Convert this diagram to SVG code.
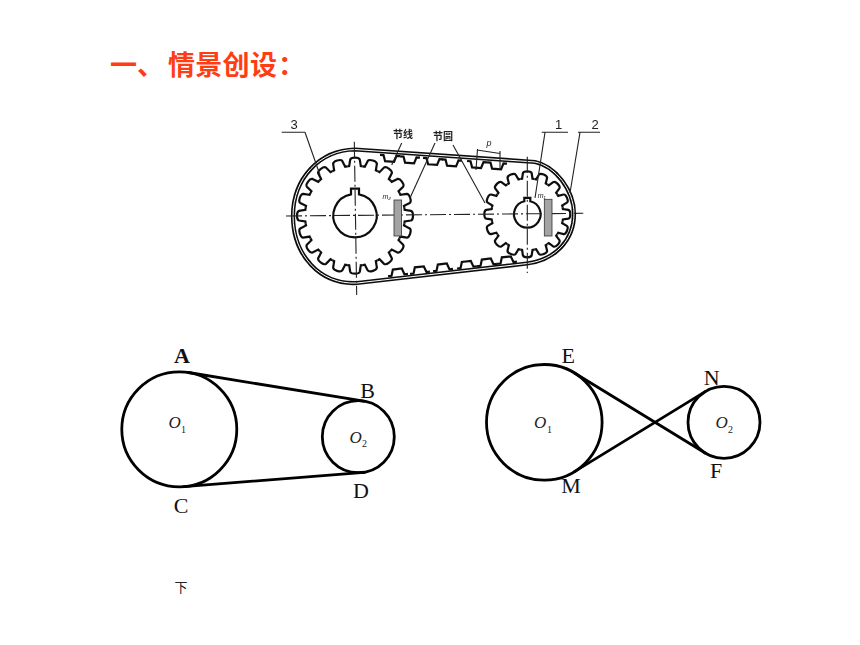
<svg xmlns="http://www.w3.org/2000/svg" width="860" height="645" viewBox="0 0 860 645">
<style>
.thin{fill:none;stroke:#222;stroke-width:1.1}
.tooth{fill:none;stroke:#111;stroke-width:2.2}
.cl{fill:none;stroke:#222;stroke-width:1.1;stroke-dasharray:16 3 2 3}
.pul{fill:none;stroke:#000;stroke-width:2.8}
.belt{fill:none;stroke:#000;stroke-width:2.8;stroke-linecap:round}
.lab{font-family:"Liberation Serif","Noto Sans CJK SC",serif;font-size:22px;fill:#111;text-anchor:middle}
.o{font-family:"Liberation Serif",serif;font-style:italic;font-size:17px;fill:#222}
.s{font-family:"Liberation Serif",serif;font-size:10px;fill:#222}
.fig{font-family:"Liberation Sans",sans-serif;font-size:13px;fill:#222;text-anchor:middle}
.cn{font-family:"Noto Sans CJK SC",sans-serif;font-size:10px;font-weight:700;fill:#222;text-anchor:middle}
</style>
<defs>
<filter id="soft" x="-5%" y="-5%" width="110%" height="110%"><feGaussianBlur stdDeviation="0.7"/></filter>
<path id="t1" d="M-7.82-49.38L-5.8-49.6L-4.8-56Q-4.2-58 0-58Q4.2-58 4.8-56L5.8-49.6L7.82-49.38"/>
<path id="t2" d="M-7.02-35.31L-5.2-35.6L-4.4-41Q-4-43 0-43Q4-43 4.4-41L5.2-35.6L7.02-35.31"/>
<path id="bt" d="M-10 0H-6.5L-4.5 6H4.5L6.5 0H10"/>
<path id="beltpath" d="M355 149.5L535 162C555 166 574 190 574 214C574 240 555 260 527 263.5L357 283C320 285 293 255 293 216C293 178 320 150 355 149.5Z"/>
</defs>

<g id="title">
<text x="110 137 168 195.3 222.6 249.9 278" y="75" font-family="'Noto Sans CJK SC',sans-serif" font-size="27" font-weight="700" fill="#ff3d14">一、情景创设：</text>
</g>

<g id="belt-drive-figure" filter="url(#soft)">
<g id="belt">
<use href="#beltpath" fill="none" stroke="#111" stroke-width="4.2"/>
<use href="#beltpath" fill="none" stroke="#fff" stroke-width="1"/>
<g class="tooth">
<use href="#bt" transform="translate(390 155.5) rotate(4)"/>
<use href="#bt" transform="translate(410 157) rotate(4)"/>
<use href="#bt" transform="translate(433 158.6) rotate(4)"/>
<use href="#bt" transform="translate(452 160) rotate(4)"/>
<use href="#bt" transform="translate(477 161.7) rotate(4)"/>
<use href="#bt" transform="translate(497 163) rotate(4)"/>
<use href="#bt" transform="translate(398 275) rotate(-6.5) scale(1 -1)"/>
<use href="#bt" transform="translate(420 272.8) rotate(-6.5) scale(1 -1)"/>
<use href="#bt" transform="translate(443 270) rotate(-6.5) scale(1 -1)"/>
<use href="#bt" transform="translate(467 267.4) rotate(-6.5) scale(1 -1)"/>
<use href="#bt" transform="translate(487 265) rotate(-6.5) scale(1 -1)"/>
<use href="#bt" transform="translate(507 262.8) rotate(-6.5) scale(1 -1)"/>
</g>
</g>
<g id="big-gear" class="tooth" transform="translate(355 215.7)">
<use href="#t1"/><use href="#t1" transform="rotate(18)"/><use href="#t1" transform="rotate(36)"/><use href="#t1" transform="rotate(54)"/><use href="#t1" transform="rotate(72)"/>
<use href="#t1" transform="rotate(90)"/><use href="#t1" transform="rotate(108)"/><use href="#t1" transform="rotate(126)"/><use href="#t1" transform="rotate(144)"/><use href="#t1" transform="rotate(162)"/>
<use href="#t1" transform="rotate(180)"/><use href="#t1" transform="rotate(198)"/><use href="#t1" transform="rotate(216)"/><use href="#t1" transform="rotate(234)"/><use href="#t1" transform="rotate(252)"/>
<use href="#t1" transform="rotate(270)"/><use href="#t1" transform="rotate(288)"/><use href="#t1" transform="rotate(306)"/><use href="#t1" transform="rotate(324)"/><use href="#t1" transform="rotate(342)"/>
<path d="M-4-21.3V-27H4V-21.3A21.7 21.7 0 1 1-4-21.3Z"/>
</g>
<g id="small-gear" class="tooth" transform="translate(527.3 214.3)">
<use href="#t2"/><use href="#t2" transform="rotate(22.5)"/><use href="#t2" transform="rotate(45)"/><use href="#t2" transform="rotate(67.5)"/>
<use href="#t2" transform="rotate(90)"/><use href="#t2" transform="rotate(112.5)"/><use href="#t2" transform="rotate(135)"/><use href="#t2" transform="rotate(157.5)"/>
<use href="#t2" transform="rotate(180)"/><use href="#t2" transform="rotate(202.5)"/><use href="#t2" transform="rotate(225)"/><use href="#t2" transform="rotate(247.5)"/>
<use href="#t2" transform="rotate(270)"/><use href="#t2" transform="rotate(292.5)"/><use href="#t2" transform="rotate(315)"/><use href="#t2" transform="rotate(337.5)"/>
<path d="M-3-13V-16.5H3V-13A13.3 13.3 0 1 1-3-13Z"/>
</g>
<g id="center-lines">
<path class="cl" d="M286 216L583.3 213.3"/>
<path class="cl" d="M354.3 141.7L356.7 295"/>
<path class="cl" d="M527.3 156.7V273"/>
</g>
<g id="inserts" fill="#a3a3a3" stroke="#333" stroke-width="0.8">
<rect x="394" y="200" width="7.6" height="36"/>
<rect x="544.3" y="199.3" width="7.7" height="36.7"/>
</g>
<g id="leaders">
<path class="thin" d="M281.7 132.3H305M305 132.3L320 175"/>
<path class="thin" d="M541.7 132.3H568M545 132.3L535 198"/>
<path class="thin" d="M578 132.3H600M580 132.3L570 193"/>
<path class="thin" d="M401.7 143L391.7 165"/>
<path class="thin" d="M435 143L410 198"/>
<path class="thin" d="M453 145L485 203"/>
<path class="thin" d="M477 150L500 153.5M477.5 149L476 170M500 151L500 168"/>
</g>
<g id="figure-labels">
<text class="fig" x="294" y="129">3</text>
<text class="fig" x="558.7" y="129">1</text>
<text class="fig" x="595" y="129">2</text>
<text class="cn" x="403" y="138">节线</text>
<text class="cn" x="443" y="140">节圆</text>
<text class="fig" x="489" y="146" style="font-size:9px;font-style:italic">p</text>
<text class="fig" x="386.7" y="199" style="font-size:7px;font-style:italic">m₂</text>
<text class="fig" x="541.7" y="198" style="font-size:7px;font-style:italic">m₁</text>
</g>
</g>

<g id="connectors">
<path class="belt" d="M188.4 372.5L364 401.2"/>
<path class="belt" d="M183.8 486.6L361.1 472.6"/>
<path class="belt" d="M574.5 373L705.2 453"/>
<path class="belt" d="M574.5 471.6L705.2 391.6"/>
</g>

<g id="node-left-O1"><circle class="pul" cx="179.3" cy="429.3" r="57.5"/>
<text class="o" x="168.5" y="428">O</text><text class="s" x="181" y="432.5">1</text></g>
<g id="node-left-O2"><circle class="pul" cx="358.3" cy="436.7" r="36"/>
<text class="o" x="349.5" y="443">O</text><text class="s" x="362" y="447">2</text></g>
<g id="node-right-O1"><circle class="pul" cx="544.3" cy="422.3" r="57.8"/>
<text class="o" x="534" y="428.3">O</text><text class="s" x="547" y="432.5">1</text></g>
<g id="node-right-O2"><circle class="pul" cx="724" cy="422.3" r="36"/>
<text class="o" x="715.5" y="428.3">O</text><text class="s" x="728" y="432.5">2</text></g>

<g id="point-labels">
<text class="lab" x="182" y="363" font-weight="700">A</text>
<text class="lab" x="367.5" y="398">B</text>
<text class="lab" x="181" y="512.7">C</text>
<text class="lab" x="361" y="498">D</text>
<text class="lab" x="568.3" y="363.3">E</text>
<text class="lab" x="711.7" y="385">N</text>
<text class="lab" x="716" y="478.3">F</text>
<text class="lab" x="571" y="492.7">M</text>
</g>
<g id="caption"><text x="181" y="591.5" font-family="'Noto Sans CJK SC',sans-serif" font-size="13" fill="#222" text-anchor="middle">下</text></g>
</svg>
